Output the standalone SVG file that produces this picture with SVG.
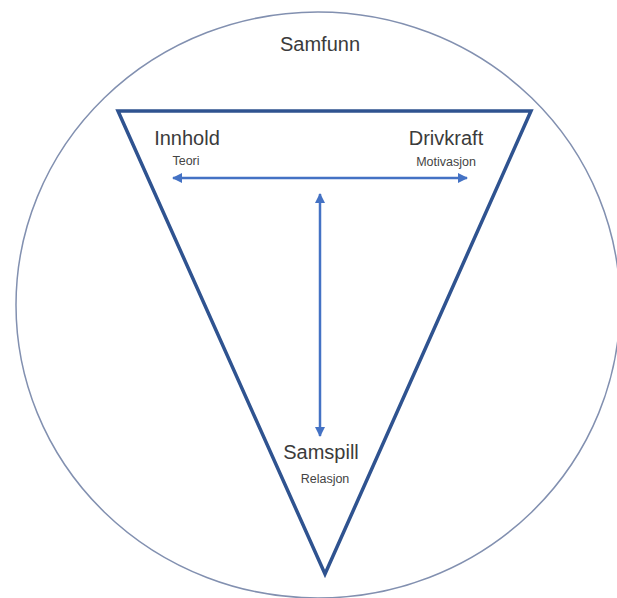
<svg xmlns="http://www.w3.org/2000/svg" width="617" height="598" viewBox="0 0 617 598">
<defs>
<style>
.main{font-family:"Liberation Sans","Open Sans",sans-serif;font-size:20px;fill:#3b3b3b;text-anchor:middle}
.sub{font-family:"Liberation Sans","Open Sans",sans-serif;font-size:12.5px;fill:#444;text-anchor:middle}
.conn{stroke:#4472C4;stroke-width:2.5;fill:none}
</style>
<marker id="ah" viewBox="0 0 10 10" refX="9" refY="5" markerWidth="4" markerHeight="4" orient="auto-start-reverse" markerUnits="strokeWidth">
<path d="M0,0 L10,5 L0,10 z" fill="#4472C4"/>
</marker>
</defs>
<rect width="617" height="598" fill="#ffffff"/>
<g id="samfunn">
<ellipse cx="318" cy="305" rx="302" ry="293" fill="none" stroke="#8290b0" stroke-width="1.5"/>
<text class="main" x="320" y="51">Samfunn</text>
</g>
<g id="triangle">
<polygon points="118,111 531,111 325,574" fill="none" stroke="#2f5390" stroke-width="3.5" stroke-linejoin="miter"/>
</g>
<g id="innhold">
<text class="main" x="187" y="145">Innhold</text>
<text class="sub" x="186" y="165">Teori</text>
</g>
<g id="drivkraft">
<text class="main" x="446" y="145">Drivkraft</text>
<text class="sub" x="446" y="166">Motivasjon</text>
</g>
<g id="samspill">
<text class="main" x="321" y="459">Samspill</text>
<text class="sub" x="325" y="483">Relasjon</text>
</g>
<g id="connectors">
<line class="conn" x1="173" y1="178" x2="467" y2="178" marker-start="url(#ah)" marker-end="url(#ah)"/>
<line class="conn" x1="320" y1="194" x2="320" y2="436" marker-start="url(#ah)" marker-end="url(#ah)"/>
</g>
</svg>
